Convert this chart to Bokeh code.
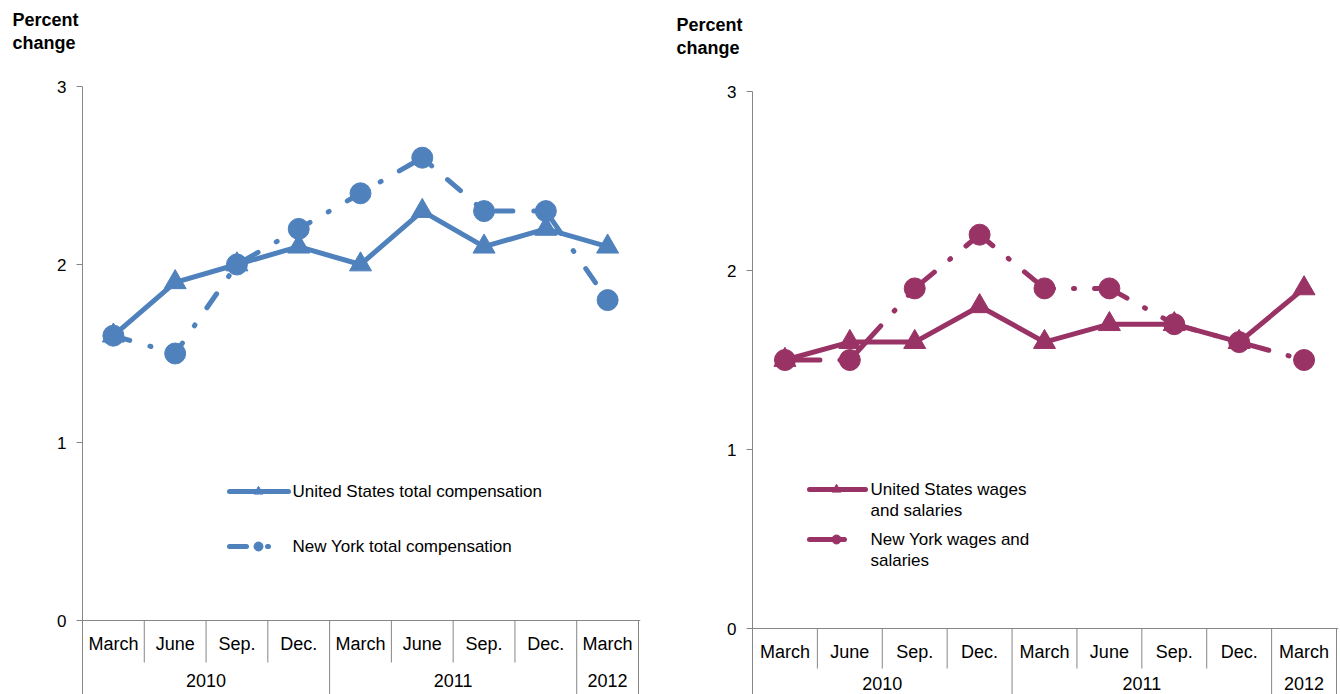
from bokeh.plotting import figure
from bokeh.models import Range1d, LinearAxis, FixedTicker, Span, Title
from bokeh.layouts import row
from bokeh.embed import file_html
from bokeh.resources import INLINE
from bokeh.core.properties import value

# ---------------- data ----------------
QUARTERS = ["March", "June", "Sep.", "Dec.", "March", "June", "Sep.", "Dec.", "March"]
YEARS = ["2010", "2011", "2012"]
YEAR_QUARTER_COUNTS = [4, 4, 1]
Y_TICKS = [0, 1, 2, 3]
Y_MAX = 3

US_TOTAL = [1.6, 1.9, 2.0, 2.1, 2.0, 2.3, 2.1, 2.2, 2.1]
NY_TOTAL = [1.6, 1.5, 2.0, 2.2, 2.4, 2.6, 2.3, 2.3, 1.8]
US_WAGES = [1.5, 1.6, 1.6, 1.8, 1.6, 1.7, 1.7, 1.6, 1.9]
NY_WAGES = [1.5, 1.5, 1.9, 2.2, 1.9, 1.9, 1.7, 1.6, 1.5]

US_TOTAL_NAME = "United States total compensation"
NY_TOTAL_NAME = "New York total compensation"
US_WAGES_NAME = "United States wages\nand salaries"
NY_WAGES_NAME = "New York wages and\nsalaries"
Y_TITLE = "Percent\nchange"

FONT = value("Liberation Sans")
GREY = "#868686"
BLUE = "#4F81BD"
MAROON = "#993366"
FRAME_TOP = 86   # shared frame top of both panels (px)


def make_panel(cfg):
    n = len(QUARTERS)
    catw = cfg["catw"]
    ppu = cfg["ppu"]
    fl = cfg["frame_left"]      # page px of x=-0.5
    y0 = cfg["y0"]              # page px of y=0
    H = cfg["height"]
    W = cfg["width"]
    page_x0 = cfg["page_x0"]
    bl = fl - 1 - page_x0
    frame_h = H - FRAME_TOP
    x_start = -0.5 - 1.0 / catw
    x_end = (n - 0.5) + 2.0 / catw
    frame_w = int(round((x_end - x_start) * catw))
    br = max(0, W - bl - frame_w)
    y_top = (y0 - FRAME_TOP) / ppu
    y_bot = y_top - frame_h / ppu

    def dx(px):
        return (px - fl) / catw - 0.5

    def dy(py):
        return (y0 - py) / ppu

    p = figure(width=W, height=H, x_range=Range1d(x_start, x_end), y_range=Range1d(y_bot, y_top),
               x_axis_type=None, y_axis_type=None, toolbar_location=None, title=None,
               output_backend="svg", min_border_left=bl, min_border_right=br,
               min_border_top=FRAME_TOP, min_border_bottom=0)
    p.outline_line_color = None
    p.background_fill_color = "white"

    # spacer panel next to the frame, then the y title above it
    p.add_layout(Title(text=" ", text_font_size="1px", standoff=cfg["spacer_standoff"]), "above")
    p.add_layout(Title(text=Y_TITLE, align="left", offset=cfg["title_x"] - (fl - 1),
                       vertical_align="top", standoff=cfg["title_standoff"],
                       text_font="Liberation Sans", text_font_size="18px",
                       text_font_style="bold", text_color="black",
                       text_line_height=1.15), "above")

    ax = LinearAxis(ticker=FixedTicker(ticks=Y_TICKS, minor_ticks=[]))
    ax.axis_line_color = None
    ax.major_tick_line_color = GREY
    ax.major_tick_out = 5
    ax.major_tick_in = 1
    ax.minor_tick_out = 0
    ax.minor_tick_in = 0
    ax.major_label_standoff = 10
    ax.major_label_text_font = "Liberation Sans"
    ax.major_label_text_font_size = "17px"
    ax.major_label_text_color = "black"
    p.add_layout(ax, "left")

    p.add_layout(Span(location=0, dimension="width", line_color=GREY, line_width=1))

    # category separators (the first one doubles as the value-axis line)
    bounds = []
    acc = 0
    for c in YEAR_QUARTER_COUNTS:
        acc += c
        bounds.append(acc)
    year_edges = [-0.5] + [b - 0.5 for b in bounds]
    quarter_edges = [i + 0.5 for i in range(n - 1) if (i + 1) not in bounds]
    p.segment(x0=quarter_edges, y0=[0] * len(quarter_edges), x1=quarter_edges,
              y1=[cfg["qsep_end"]] * len(quarter_edges), line_color=GREY, line_width=1)
    p.segment(x0=year_edges[1:], y0=[0] * (len(year_edges) - 1), x1=year_edges[1:],
              y1=[y_bot] * (len(year_edges) - 1), line_color=GREY, line_width=1)
    p.segment(x0=[year_edges[0]], y0=[y_bot], x1=[year_edges[0]], y1=[Y_MAX],
              line_color=GREY, line_width=1)

    # category labels
    xs = list(range(n))
    p.text(x=xs, y=[cfg["q_label_y"]] * n, text=QUARTERS, text_font=FONT,
           text_font_size="18px", text_align="center", text_baseline="middle",
           text_color="black")
    starts = [0] + bounds[:-1]
    year_x = [(s + b - 1) / 2 for s, b in zip(starts, bounds)]
    p.text(x=year_x, y=[cfg["y_label_y"]] * len(YEARS), text=YEARS, text_font=FONT,
           text_font_size="18px", text_align="center", text_baseline="middle",
           text_color="black")

    color = cfg["color"]
    dash = cfg["dash"]
    us = cfg["us"]
    ny = cfg["ny"]
    # US series
    p.line(xs, us, line_color=color, line_width=5, line_join="round", line_cap="round")
    p.scatter(xs, us, marker="triangle", size=22, fill_color=color, line_color=color)
    # NY series
    p.line(xs, ny, line_color=color, line_width=5, line_dash=dash,
           line_join="round", line_cap="round")
    p.scatter(xs, ny, marker="circle", size=21, fill_color=color, line_color=color)

    # legend (drawn manually)
    lx0, lx1 = dx(cfg["leg_x0"]), dx(cfg["leg_x1"])
    lxc = dx(cfg["leg_xc"])
    ly_us, ly_ny = dy(cfg["leg_y_us"]), dy(cfg["leg_y_ny"])
    p.line([lx0, lx1], [ly_us, ly_us], line_color=color, line_width=5, line_cap="round")
    p.scatter([lxc], [ly_us], marker="triangle", size=9, fill_color=color, line_color=color)
    p.line([lx0, dx(cfg["leg_x1_ny"])], [ly_ny, ly_ny], line_color=color, line_width=5,
           line_dash=dash, line_cap="round")
    p.scatter([lxc], [ly_ny], marker="circle", size=9, fill_color=color, line_color=color)
    p.text(x=[dx(cfg["leg_text_x"])] * 2, y=[dy(cfg["leg_text_y_us"]), dy(cfg["leg_text_y_ny"])],
           text=[cfg["us_name"], cfg["ny_name"]], text_font=FONT, text_font_size="17px",
           text_align="left", text_baseline=cfg["leg_baseline"], text_line_height=1.12,
           text_color="black")
    return p


left_cfg = dict(
    page_x0=0, width=673, height=694, frame_left=82, y0=620,
    catw=556 / 9, ppu=178.0, qsep_end=-(662 - 620) / 178.0,
    q_label_y=-(643 - 620) / 178.0, y_label_y=-(680 - 620) / 178.0,
    color=BLUE, dash="17 21 1 21", us=US_TOTAL, ny=NY_TOTAL,
    us_name=US_TOTAL_NAME, ny_name=NY_TOTAL_NAME,
    leg_x0=229, leg_x1=288, leg_x1_ny=288, leg_xc=258, leg_y_us=491, leg_y_ny=546,
    leg_text_x=292, leg_text_y_us=491, leg_text_y_ny=546, leg_baseline="middle",
    title_x=12, title_standoff=-4, spacer_standoff=31,
)

right_cfg = dict(
    page_x0=673, width=667, height=694, frame_left=752, y0=628,
    catw=584 / 9, ppu=179.0, qsep_end=-(668 - 628) / 179.0,
    q_label_y=-(651 - 628) / 179.0, y_label_y=-(683 - 628) / 179.0,
    color=MAROON, dash="35 20 1 20", us=US_WAGES, ny=NY_WAGES,
    us_name=US_WAGES_NAME, ny_name=NY_WAGES_NAME,
    leg_x0=809, leg_x1=865, leg_x1_ny=862, leg_xc=836, leg_y_us=489, leg_y_ny=539,
    leg_text_x=870, leg_text_y_us=479, leg_text_y_ny=529, leg_baseline="top",
    title_x=676, title_standoff=6, spacer_standoff=21,
)

p1 = make_panel(left_cfg)
p2 = make_panel(right_cfg)
layout = row(p1, p2)

open("out.html", "w").write(file_html(layout, INLINE))
